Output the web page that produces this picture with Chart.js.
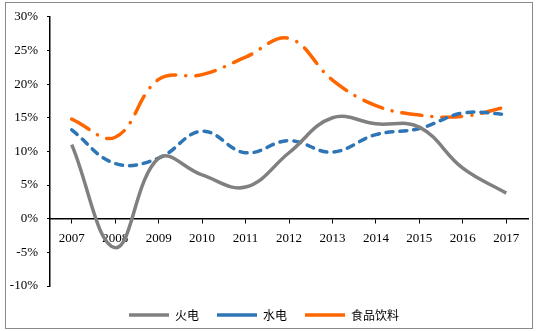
<!DOCTYPE html>
<html lang="zh">
<head>
<meta charset="UTF-8">
<title>火电 水电 食品饮料</title>
<script src="https://cdn.jsdelivr.net/npm/chart.js@4/dist/chart.umd.min.js"></script>
<style>
	body { margin: 0; background: #fff; }
	#wrap { position: absolute; left: 0; top: 0; width: 536px; height: 331px; }
	#frame { position: absolute; left: 5px; top: 2px; width: 526px; height: 325px; border: 1px solid #8a8a8a; pointer-events: none; }
</style>
</head>
<body>
<div id="wrap"><canvas id="chart" width="536" height="331"></canvas></div>
<div id="frame"></div>

<script>
// data
var years = ['2007', '2008', '2009', '2010', '2011', '2012', '2013', '2014', '2015', '2016', '2017'];
var thermal = [11.0, -4.3, 9.0, 6.5, 4.7, 9.8, 15.0, 14.1, 13.6, 7.5, 3.8];
var hydro = [13.2, 8.2, 9.0, 13.0, 9.8, 11.6, 9.9, 12.5, 13.4, 15.7, 15.5];
var foodBev = [14.8, 12.1, 20.7, 21.4, 24.0, 26.8, 20.6, 16.8, 15.4, 15.2, 16.6];
var seriesNames = ['火电', '水电', '食品饮料'];

var serif = "'Liberation Serif', 'Times New Roman', serif";
var cjk = "'Noto Sans CJK SC', sans-serif";

const ctx = document.getElementById('chart').getContext('2d');
const chart = new Chart(ctx, {
	type: 'line',
	data: {
		labels: years,
		datasets: [{
			label: seriesNames[0],
			data: thermal,
			borderColor: '#808080',
			borderWidth: 3.5,
			tension: 0.4
		}, {
			label: seriesNames[1],
			data: hydro,
			borderColor: '#2e75b6',
			borderWidth: 3.5,
			borderDash: [7, 7],
			borderCapStyle: 'round',
			tension: 0.4
		}, {
			label: seriesNames[2],
			data: foodBev,
			borderColor: '#ff6600',
			borderWidth: 3.5,
			borderDash: [20, 10, 0.1, 10],
			borderCapStyle: 'round',
			tension: 0.4
		}]
	},
	options: {
		responsive: false,
		animation: false,
		devicePixelRatio: 1,
		layout: { padding: { top: 15, right: 8, left: 0, bottom: 0 } },
		elements: { point: { radius: 0, hoverRadius: 0 } },
		plugins: {
			tooltip: { enabled: false },
			legend: {
				position: 'bottom',
				// blank title only keeps the plot bottom clear of the legend
				title: { display: true, text: ' ', padding: 0, font: { size: 5, lineHeight: 1 } },
				labels: {
					usePointStyle: true,
					pointStyle: 'line',
					pointStyleWidth: 40,
					padding: 18,
					color: '#000',
					font: { family: cjk, size: 12 }
				}
			}
		},
		scales: {
			x: {
				position: { y: 0 },
				offset: true,
				grid: { display: true, drawOnChartArea: false, tickLength: 4, color: '#000' },
				border: { display: true, color: '#000', width: 1.5 },
				ticks: { color: '#000', padding: 8, maxRotation: 0, font: { family: serif, size: 13 } }
			},
			y: {
				min: -10,
				max: 30,
				afterFit: function (scale) { scale.width = 50; },
				grid: { display: true, drawOnChartArea: false, tickLength: 3, color: '#000' },
				border: { display: true, color: '#000', width: 1.5 },
				ticks: {
					stepSize: 5,
					color: '#000',
					padding: 9,
					font: { family: serif, size: 13 },
					callback: function (v) { return v + '%'; }
				}
			}
		}
	}
});
</script>
</body>
</html>
